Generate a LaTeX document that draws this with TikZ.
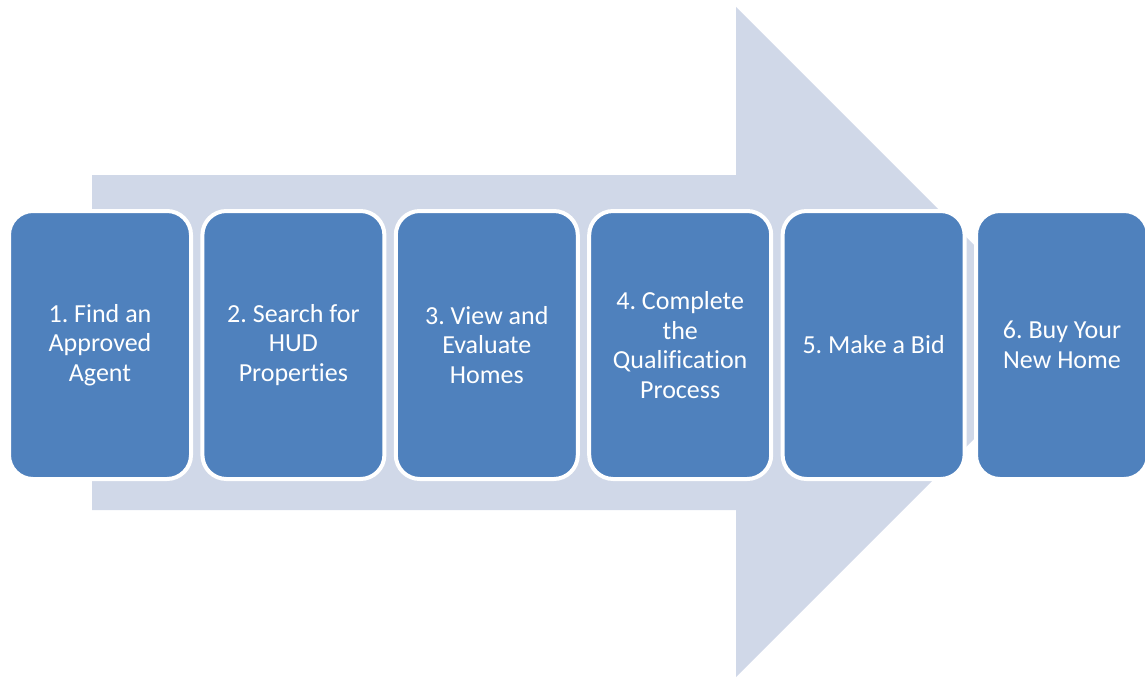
\documentclass[tikz,border=0pt]{standalone}
\usepackage{fontspec}
\setmainfont{Carlito}[Ligatures={NoCommon}]
\frenchspacing
\definecolor{stepblue}{HTML}{4F81BD}
\definecolor{arrowfill}{HTML}{D0D8E8}
\begin{document}
\begin{tikzpicture}[x=1pt,y=-1pt,
  stepbox/.style={draw=white, line width=4pt, fill=stepblue,
    rounded corners=24pt, minimum width=182pt, minimum height=268pt,
    anchor=north west, inner sep=0pt, align=center, text=white,
    font=\fontsize{26}{29.5}\selectfont}]
\useasboundingbox (0,0) rectangle (1145,677);
% large background arrow
\fill[arrowfill] (92,175) -- (736,175) -- (736,7) -- (1071,342)
  -- (736,677) -- (736,510) -- (92,510) -- cycle;
% process steps
\node[stepbox] (s1) at (7,209) {1. Find an\\Approved\\Agent};
\node[stepbox] (s2) at (200.4,209) {2. Search for\\HUD\\Properties};
\node[stepbox] (s3) at (393.8,209) {3. View and\\Evaluate\\Homes};
\node[stepbox] (s4) at (587.2,209) {4. Complete\\the\\Qualification\\Process};
\node[stepbox] (s5) at (780.6,209) {5. Make a Bid};
\node[stepbox, minimum width=172pt] (s6) at (974,209) {6. Buy Your\\New Home};
\end{tikzpicture}
\end{document}
